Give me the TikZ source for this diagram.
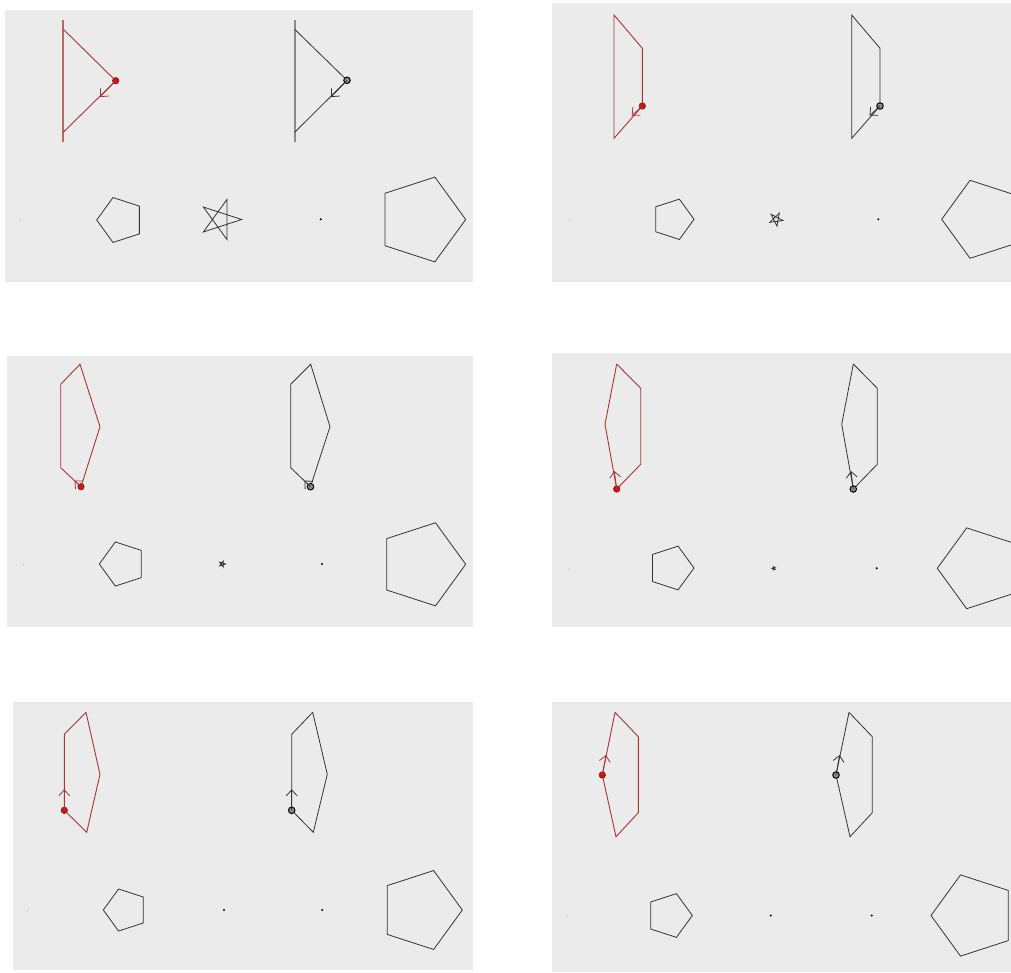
\documentclass[tikz,border=0pt]{standalone}
\usetikzlibrary{arrows.meta}
\definecolor{bgcol}{HTML}{EBEBEB}
\definecolor{redline}{HTML}{A83434}
\definecolor{redbar}{HTML}{B86A64}
\definecolor{graybar}{HTML}{8C8C8C}
\definecolor{reddot}{HTML}{D81010}
\definecolor{blkline}{HTML}{333333}
\newcommand\mypent[4]{\draw[polyline] ([shift={(#1,#2)}]#4:#3) -- ([shift={(#1,#2)}]#4+72:#3) -- ([shift={(#1,#2)}]#4+144:#3) -- ([shift={(#1,#2)}]#4+216:#3) -- ([shift={(#1,#2)}]#4+288:#3) -- cycle;}
\newcommand\mystar[4]{\draw[polyline] ([shift={(#1,#2)}]#4:#3) -- ([shift={(#1,#2)}]#4+144:#3) -- ([shift={(#1,#2)}]#4+288:#3) -- ([shift={(#1,#2)}]#4+72:#3) -- ([shift={(#1,#2)}]#4+216:#3) -- cycle;}
\tikzset{
  panel/.style={fill=bgcol, draw=none},
  polyline/.style={draw=blkline, line width=0.8pt, line join=miter},
  redpoly/.style={draw=redline, line width=0.9pt},
  blkpoly/.style={draw=blkline, line width=0.8pt},
  redarr/.style={draw=redline, line width=0.8pt, -{Straight Barb[length=6pt,width=11pt]}},
  blkarr/.style={draw=blkline, line width=0.8pt, -{Straight Barb[length=6pt,width=11pt]}},
  rdot/.style={circle, fill=reddot, draw=redline!70!black, line width=0.6pt, inner sep=0pt, minimum size=6.5pt},
  bdot/.style={circle, fill=blkline!55, draw=black, line width=1pt, inner sep=0pt, minimum size=6.5pt},
  tiny/.style={circle, fill=black, inner sep=0pt, minimum size=2.2pt},
  faint/.style={circle, fill=gray!70, inner sep=0pt, minimum size=1.2pt}
}
\begin{document}
\begin{tikzpicture}[x=1pt,y=-1pt]
\useasboundingbox (0,0) rectangle (1011,972);
\fill[white] (0,0) rectangle (1011,972);
% panels
\fill[panel] (5,10) rectangle (473,282);
\fill[panel] (552,3) rectangle (1011,282);
\fill[panel] (7,356) rectangle (473,627);
\fill[panel] (552,353) rectangle (1011,627);
\fill[panel] (13,702) rectangle (473,970);
\fill[panel] (552,702) rectangle (1011,972);

% ---------- panel 1 ----------
\fill[redbar] (62.3,20) rectangle (64.3,142);
\coordinate (r1a) at (63.3,29.3); \coordinate (r1b) at (115.7,80.7); \coordinate (r1c) at (63.3,132.3);
\draw[redpoly] (r1a) -- (r1b) -- (r1c);
\node[rdot] (r1d) at (r1b) {};
\coordinate (r1t) at (100,97);
\draw[redarr] (r1b) -- (r1t);
\fill[graybar] (293.7,20) rectangle (295.7,142);
\coordinate (b1a) at (294.7,29.3); \coordinate (b1b) at (347,80.3); \coordinate (b1c) at (294.7,132.3);
\draw[blkpoly] (b1a) -- (b1b) -- (b1c);
\node[bdot] (b1d) at (b1b) {};
\coordinate (b1t) at (331,97);
\draw[blkarr] (b1b) -- (b1t);
\node[faint] at (20.7,220) {};
\mypent{120.3}{220}{23.6}{180}
\mystar{220.5}{219.5}{21.2}{0}
\node[tiny] at (320.7,219.3) {};
\mypent{421.1}{219.5}{44.6}{0}

% ---------- panel 2 ----------
\coordinate (r2a) at (614,15); \coordinate (r2b) at (642.3,48.3); \coordinate (r2c) at (642.3,106); \coordinate (r2d) at (614,138.3);
\draw[redpoly] (r2c) -- (r2b) -- (r2a) -- (r2d) -- (r2c);
\node[rdot] at (r2c) {};
\coordinate (r2t) at (631.7,115.7);
\draw[redarr] (r2c) -- (r2t);
\coordinate (b2a) at (851.7,15); \coordinate (b2b) at (880,48.3); \coordinate (b2c) at (880,106); \coordinate (b2d) at (851.7,138.3);
\draw[blkpoly] (b2c) -- (b2b) -- (b2a) -- (b2d) -- (b2c);
\node[bdot] at (b2c) {};
\coordinate (b2t) at (869.5,115.7);
\draw[blkarr] (b2c) -- (b2t);
\node[faint] at (570,220) {};
\mypent{672.8}{219.3}{21.2}{0}
\mystar{776}{219.3}{7}{10}
\node[tiny] at (878.3,219.3) {};
\begin{scope}
\clip (552,3) rectangle (1011,282);
\mypent{982.7}{219.3}{41}{180}
\end{scope}

% ---------- panel 3 ----------
\coordinate (r3a) at (80,364.3); \coordinate (r3b) at (60.7,384.3); \coordinate (r3c) at (60.7,467.7); \coordinate (r3d) at (81,486.7); \coordinate (r3e) at (100,426.7);
\draw[redpoly] (r3d) -- (r3e) -- (r3a) -- (r3b) -- (r3c) -- (r3d);
\node[rdot] at (r3d) {};
\coordinate (r3t) at (74.5,480.5);
\draw[redarr] (r3d) -- (r3t);
\coordinate (b3a) at (310.7,364.3); \coordinate (b3b) at (290.7,384.3); \coordinate (b3c) at (290.7,467.7); \coordinate (b3d) at (310.5,486.7); \coordinate (b3e) at (330,426.7);
\draw[blkpoly] (b3d) -- (b3e) -- (b3a) -- (b3b) -- (b3c) -- (b3d);
\node[bdot] at (b3d) {};
\coordinate (b3t) at (304.5,480.5);
\draw[blkarr] (b3d) -- (b3t);
\node[faint] at (23.3,564.3) {};
\mypent{122.5}{564}{23.2}{180}
\mystar{222.3}{564}{3.2}{0}
\node[tiny] at (322,564) {};
\mypent{422}{564.3}{43.7}{0}

% ---------- panel 4 ----------
\coordinate (r4a) at (616.7,364); \coordinate (r4b) at (640.7,388.3); \coordinate (r4c) at (640.7,464.3); \coordinate (r4d) at (616.7,489); \coordinate (r4e) at (605,424.3);
\draw[redpoly] (r4a) -- (r4b) -- (r4c) -- (r4d) -- (r4e) -- (r4a);
\node[rdot] at (r4d) {};
\coordinate (r4t) at (614.3,471);
\draw[redarr] (r4d) -- (r4t);
\coordinate (b4a) at (853.3,364); \coordinate (b4b) at (877.3,388.3); \coordinate (b4c) at (877.3,464.3); \coordinate (b4d) at (853.3,489); \coordinate (b4e) at (841.7,424.3);
\draw[blkpoly] (b4a) -- (b4b) -- (b4c) -- (b4d) -- (b4e) -- (b4a);
\node[bdot] at (b4d) {};
\coordinate (b4t) at (850.9,471);
\draw[blkarr] (b4d) -- (b4t);
\node[faint] at (569,569) {};
\mypent{671}{568}{23}{0}
\mystar{773.7}{568.3}{1.8}{180}
\node[tiny] at (876.7,568.3) {};
\begin{scope}
\clip (552,353) rectangle (1011,627);
\mypent{979.8}{568.3}{42.5}{180}
\end{scope}

% ---------- panel 5 ----------
\coordinate (r5a) at (86,712.3); \coordinate (r5b) at (100,774.3); \coordinate (r5c) at (86.7,832.3); \coordinate (r5d) at (64.3,810.3); \coordinate (r5e) at (64.3,734.3);
\draw[redpoly] (r5a) -- (r5b) -- (r5c) -- (r5d) -- (r5e) -- (r5a);
\node[rdot] at (r5d) {};
\coordinate (r5t) at (64.3,789.3);
\draw[redarr] (r5d) -- (r5t);
\coordinate (b5a) at (312.7,712.3); \coordinate (b5b) at (327.3,774.3); \coordinate (b5c) at (313.3,832.3); \coordinate (b5d) at (291.7,810.3); \coordinate (b5e) at (291.7,734.3);
\draw[blkpoly] (b5a) -- (b5b) -- (b5c) -- (b5d) -- (b5e) -- (b5a);
\node[bdot] at (b5d) {};
\coordinate (b5t) at (291.7,789.3);
\draw[blkarr] (b5d) -- (b5t);
\node[faint] at (27.3,911) {};
\mypent{125.4}{910}{22.1}{180}
\node[tiny] at (224,910) {};
\node[tiny] at (322.3,910) {};
\mypent{420.8}{910}{41.5}{0}

% ---------- panel 6 ----------
\coordinate (r6a) at (615,712.3); \coordinate (r6b) at (638.3,736.7); \coordinate (r6c) at (638.3,812.7); \coordinate (r6d) at (616,836.7); \coordinate (r6e) at (602.3,775);
\draw[redpoly] (r6a) -- (r6b) -- (r6c) -- (r6d) -- (r6e) -- (r6a);
\node[rdot] at (r6e) {};
\coordinate (r6t) at (606,755);
\draw[redarr] (r6e) -- (r6t);
\coordinate (b6a) at (849,712.3); \coordinate (b6b) at (872.3,736.7); \coordinate (b6c) at (872.3,812.7); \coordinate (b6d) at (850,836.7); \coordinate (b6e) at (836,775);
\draw[blkpoly] (b6a) -- (b6b) -- (b6c) -- (b6d) -- (b6e) -- (b6a);
\node[bdot] at (b6e) {};
\coordinate (b6t) at (839.7,755);
\draw[blkarr] (b6e) -- (b6t);
\node[faint] at (567.7,915.7) {};
\mypent{669.3}{915.5}{23}{0}
\node[tiny] at (770.7,915.5) {};
\node[tiny] at (871.7,915.5) {};
\mypent{973.7}{915.5}{42.7}{180}
\end{tikzpicture}
\end{document}
